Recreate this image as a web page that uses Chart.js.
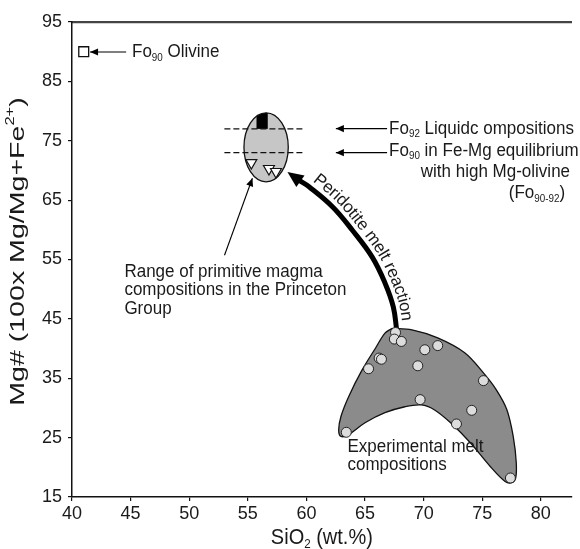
<!DOCTYPE html>
<html>
<head>
<meta charset="utf-8">
<script src="https://cdn.jsdelivr.net/npm/chart.js@4.4.1/dist/chart.umd.min.js"></script>
<style>
  html, body { margin: 0; padding: 0; background: #fff; overflow: hidden; }
  canvas { display: block; }
</style>
</head>
<body>
<canvas id="mgChart" width="580" height="549"></canvas>
<script>
const FONT = "'Liberation Sans', Arial, Helvetica, sans-serif";

// axis ticks
const xTicks = [40, 45, 50, 55, 60, 65, 70, 75, 80];
const yTicks = [15, 25, 35, 45, 55, 65, 75, 85, 95];

// experimental melt compositions (SiO2, Mg#)
const meltSiO2 = [67.6, 67.5, 68.1, 70.1, 71.2, 66.2, 66.4, 65.3, 69.5, 75.1, 69.7, 74.1, 72.8, 63.4, 77.4];
const meltMg = [42.7, 41.6, 41.2, 39.8, 40.5, 38.4, 38.2, 36.6, 37.1, 34.6, 31.4, 29.6, 27.3, 25.9, 18.2];

// primitive Princeton Group magmas
const princetonSiO2 = [55.3, 56.8, 57.4];
const princetonMg = [71.3, 70.3, 69.8];

// Fo90 olivine
const olivineSiO2 = [41.0];
const olivineMg = [90.0];

// outline of the experimental melt field
const fieldSiO2 = [67.3, 69.0, 71.2, 73.5, 75.1, 76.2, 77.1, 77.65, 77.9, 77.85, 77.5, 76.95, 75.7, 74.0, 72.3, 70.9, 69.8, 68.4, 66.7, 65.0, 63.6, 62.95, 62.75, 62.95, 63.6, 64.75, 65.9, 66.7, 67.3];
const fieldMg = [43.4, 43.15, 41.8, 39.3, 35.9, 33.05, 29.7, 25.1, 20.8, 18.2, 17.4, 17.6, 20.1, 24.1, 27.5, 29.7, 30.5, 30.2, 29.2, 27.5, 25.5, 25.2, 26.3, 28.6, 31.9, 36.4, 40.1, 42.6, 43.4];

// olivine equilibrium levels (Mg#) and their dashed extent (SiO2)
const fo92Level = 77;
const fo90Level = 73;
const levelSiO2 = [53.0, 59.9];

// range of primitive magma ellipse
const rangeEllipse = { x: 56.56, y: 73.9, rx: 1.89, ry: 5.81 };
const liquidBlock = { x0: 55.74, x1: 56.7, y0: 77, y1: 80.5 };

// peridotite melt reaction arrow: tip, then shaft from head to tail
const reactionTip = { x: 58.38, y: 69.75 };
const reactionSiO2 = [59.42, 60.25, 62.24, 63.92, 65.6, 66.71, 67.41, 67.7];
const reactionMg = [68.27, 67.22, 63.86, 59.93, 55.44, 51.01, 47.02, 43.1];

// thin label arrows (data units)
const pointers = [
  { from: [44.62, 89.95], to: [41.54, 89.95] },
  { from: [66.88, 77.05], to: [62.51, 77.05] },
  { from: [66.88, 73.0], to: [62.51, 73.0] },
  { from: [53.01, 55.72], to: [55.39, 68.68] }
];

const labels = [
  { text: 'Fo_{90} Olivine', x: 45.12, y: 89.95, align: 'left' },
  { text: 'Fo_{92} Liquidc ompositions', x: 67.05, y: 77.05, align: 'left' },
  { text: 'Fo_{90} in Fe-Mg equilibrium', x: 67.05, y: 73.32, align: 'left' },
  { text: 'with high Mg-olivine', x: 82.49, y: 69.75, align: 'right' },
  { text: '(Fo_{90-92})', x: 82.07, y: 66.16, align: 'right' },
  { text: 'Range of primitive magma', x: 44.47, y: 52.91, align: 'left' },
  { text: 'compositions in the Princeton', x: 44.47, y: 49.85, align: 'left' },
  { text: 'Group', x: 44.47, y: 46.67, align: 'left' },
  { text: 'Experimental melt', x: 63.5, y: 23.45, align: 'left' },
  { text: 'compositions', x: 63.5, y: 20.42, align: 'left' }
];

const reactionLabel = 'Peridotite melt reaction';

const pts = (xs, ys) => xs.map((x, i) => ({ x, y: ys[i] }));

function parseRich(str) {
  const parts = [];
  const re = /([_^])\{([^}]*)\}|([^_^]+)/g;
  let m;
  while ((m = re.exec(str))) {
    if (m[3]) parts.push({ t: m[3], mode: 'n' });
    else parts.push({ t: m[2], mode: m[1] === '_' ? 'sub' : 'sup' });
  }
  return parts;
}

function drawRich(ctx, str, x, y, o) {
  const size = o.size;
  const parts = parseRich(str);
  const fontOf = p => `${p.mode === 'n' ? size : size * 0.58}px ${FONT}`;
  let width = 0;
  parts.forEach(p => { ctx.font = fontOf(p); p.w = ctx.measureText(p.t).width; width += p.w; });
  let cx = o.align === 'right' ? -width : o.align === 'center' ? -width / 2 : 0;
  ctx.save();
  ctx.translate(x, y);
  if (o.rot) ctx.rotate(o.rot);
  ctx.scale(o.sx || 1, o.sy || 1);
  ctx.fillStyle = '#1a1a1a';
  ctx.textBaseline = 'middle';
  ctx.textAlign = 'left';
  parts.forEach(p => {
    ctx.font = fontOf(p);
    const dy = p.mode === 'sub' ? size * 0.3 : p.mode === 'sup' ? -size * 0.34 : 0;
    ctx.fillText(p.t, cx, dy);
    cx += p.w;
  });
  ctx.restore();
}

function arrowHead(ctx, tip, from, len, half) {
  const dx = from.x - tip.x, dy = from.y - tip.y;
  const L = Math.hypot(dx, dy);
  const ux = dx / L, uy = dy / L;
  const bx = tip.x + ux * len, by = tip.y + uy * len;
  ctx.beginPath();
  ctx.moveTo(tip.x, tip.y);
  ctx.lineTo(bx - uy * half, by + ux * half);
  ctx.lineTo(bx + uy * half, by - ux * half);
  ctx.closePath();
  ctx.fill();
}

function catmull(p, steps) {
  const out = [];
  for (let i = 0; i < p.length - 1; i++) {
    const p0 = p[Math.max(i - 1, 0)], p1 = p[i], p2 = p[i + 1], p3 = p[Math.min(i + 2, p.length - 1)];
    for (let k = 0; k < steps; k++) {
      const t = k / steps, t2 = t * t, t3 = t2 * t;
      const f = c => 0.5 * (2 * p1[c] + (p2[c] - p0[c]) * t + (2 * p0[c] - 5 * p1[c] + 4 * p2[c] - p3[c]) * t2 + (3 * p1[c] - p0[c] - 3 * p2[c] + p3[c]) * t3);
      out.push({ x: f('x'), y: f('y') });
    }
  }
  out.push(p[p.length - 1]);
  return out;
}

function textOnPath(ctx, str, path, offset, start, size) {
  const off = path.map((p, i) => {
    const a = path[Math.max(i - 1, 0)], b = path[Math.min(i + 1, path.length - 1)];
    const dx = b.x - a.x, dy = b.y - a.y, L = Math.hypot(dx, dy);
    return { x: p.x + dy / L * offset, y: p.y - dx / L * offset };
  });
  const cum = [0];
  for (let i = 1; i < off.length; i++) cum.push(cum[i - 1] + Math.hypot(off[i].x - off[i - 1].x, off[i].y - off[i - 1].y));
  const at = s => {
    let i = 1;
    while (i < cum.length - 1 && cum[i] < s) i++;
    const a = off[i - 1], b = off[i];
    const t = (s - cum[i - 1]) / (cum[i] - cum[i - 1] || 1);
    return { x: a.x + (b.x - a.x) * t, y: a.y + (b.y - a.y) * t, ang: Math.atan2(b.y - a.y, b.x - a.x) };
  };
  ctx.save();
  ctx.font = `${size}px ${FONT}`;
  ctx.fillStyle = '#1a1a1a';
  ctx.textAlign = 'center';
  ctx.textBaseline = 'middle';
  let s = start;
  for (const ch of str) {
    const w = ctx.measureText(ch).width;
    const p = at(s + w / 2);
    ctx.save();
    ctx.translate(p.x, p.y);
    ctx.rotate(p.ang);
    ctx.fillText(ch, 0, 0);
    ctx.restore();
    s += w;
  }
  ctx.restore();
}

const notes = {
  id: 'notes',
  beforeDatasetsDraw(chart) {
    const { ctx, scales: { x, y } } = chart;
    const cx = x.getPixelForValue(rangeEllipse.x), cy = y.getPixelForValue(rangeEllipse.y);
    const rx = x.getPixelForValue(rangeEllipse.x + rangeEllipse.rx) - cx;
    const ry = cy - y.getPixelForValue(rangeEllipse.y + rangeEllipse.ry);
    ctx.save();
    ctx.beginPath();
    ctx.ellipse(cx, cy, rx, ry, 0, 0, Math.PI * 2);
    ctx.fillStyle = '#c6c6c6';
    ctx.fill();
    ctx.clip();
    const bx0 = x.getPixelForValue(liquidBlock.x0), bx1 = x.getPixelForValue(liquidBlock.x1);
    const by0 = y.getPixelForValue(liquidBlock.y0), by1 = y.getPixelForValue(liquidBlock.y1);
    ctx.fillStyle = '#000';
    ctx.fillRect(bx0, by1, bx1 - bx0, by0 - by1);
    ctx.restore();
    ctx.save();
    ctx.beginPath();
    ctx.ellipse(cx, cy, rx, ry, 0, 0, Math.PI * 2);
    ctx.strokeStyle = '#111';
    ctx.lineWidth = 1.3;
    ctx.stroke();
    ctx.restore();
  },
  afterDatasetsDraw(chart) {
    const { ctx, scales: { x, y } } = chart;
    const px = (a, b) => ({ x: x.getPixelForValue(a), y: y.getPixelForValue(b) });
    ctx.save();
    ctx.fillStyle = '#000';
    ctx.strokeStyle = '#000';

    // thick reaction arrow head
    const tip = px(reactionTip.x, reactionTip.y);
    const base = px(reactionSiO2[0], reactionMg[0]);
    arrowHead(ctx, tip, base, 16, 7);

    // thin pointers
    ctx.lineWidth = 1.1;
    pointers.forEach(p => {
      const a = px(p.from[0], p.from[1]), b = px(p.to[0], p.to[1]);
      ctx.beginPath();
      ctx.moveTo(a.x, a.y);
      ctx.lineTo(b.x, b.y);
      ctx.stroke();
      arrowHead(ctx, b, a, 8, 3.6);
    });
    ctx.restore();

    labels.forEach(l => {
      const p = px(l.x, l.y);
      drawRich(ctx, l.text, p.x, p.y, { size: 17, align: l.align, sy: 1.1 });
    });

    // curved reaction label
    const path = catmull([tip].concat(pts(reactionSiO2, reactionMg).map(q => px(q.x, q.y))), 12);
    textOnPath(ctx, reactionLabel, path, 11, 26, 17);

    // axis titles
    drawRich(ctx, 'SiO_{2} (wt.%)', (x.left + x.right) / 2, x.bottom - 11, { size: 20, align: 'center', sy: 1.1 });
    drawRich(ctx, 'Mg# (100x Mg/Mg+Fe^{2+})', y.left + 18, (y.top + y.bottom) / 2 - 8, { size: 21, align: 'center', rot: -Math.PI / 2, sx: 1.36 });
  }
};

const tickFont = { family: FONT, size: 18 };

new Chart(document.getElementById('mgChart').getContext('2d'), {
  type: 'scatter',
  data: {
    datasets: [
      {
        label: 'Fo90 olivine',
        data: pts(olivineSiO2, olivineMg),
        pointStyle: 'rect',
        pointRadius: 7,
        backgroundColor: '#fff',
        borderColor: '#111',
        borderWidth: 1.3
      },
      {
        label: 'Experimental melts',
        data: pts(meltSiO2, meltMg),
        pointStyle: 'circle',
        pointRadius: 5,
        backgroundColor: '#dcdcdc',
        borderColor: '#222',
        borderWidth: 1
      },
      {
        label: 'Princeton Group',
        data: pts(princetonSiO2, princetonMg),
        pointStyle: 'triangle',
        rotation: 180,
        pointRadius: 6.3,
        backgroundColor: '#fff',
        borderColor: '#111',
        borderWidth: 1.2
      },
      {
        label: 'Peridotite melt reaction',
        data: pts(reactionSiO2, reactionMg),
        showLine: true,
        tension: 0.4,
        pointRadius: 0,
        borderColor: '#000',
        borderWidth: 5,
        borderCapStyle: 'butt'
      },
      {
        label: 'Fo92',
        data: levelSiO2.map(v => ({ x: v, y: fo92Level })),
        showLine: true,
        pointRadius: 0,
        borderColor: '#111',
        borderWidth: 1.4,
        borderDash: [6, 3]
      },
      {
        label: 'Fo90',
        data: levelSiO2.map(v => ({ x: v, y: fo90Level })),
        showLine: true,
        pointRadius: 0,
        borderColor: '#111',
        borderWidth: 1.4,
        borderDash: [6, 3]
      },
      {
        label: 'Melt field',
        data: pts(fieldSiO2, fieldMg),
        showLine: true,
        fill: 'shape',
        tension: 0.35,
        pointRadius: 0,
        backgroundColor: '#8b8b8b',
        borderColor: '#111',
        borderWidth: 1.3
      }
    ]
  },
  options: {
    responsive: false,
    devicePixelRatio: 1,
    animation: false,
    events: [],
    layout: { padding: { top: 22, right: 0, bottom: 0, left: 0 } },
    plugins: {
      legend: { display: false },
      tooltip: { enabled: false }
    },
    scales: {
      x: {
        type: 'linear',
        position: 'bottom',
        min: 40,
        max: 82.63,
        afterBuildTicks: s => { s.ticks = xTicks.map(v => ({ value: v })); },
        afterFit: s => { s.height = 52; },
        grid: { drawOnChartArea: false, tickLength: 4, color: '#111', lineWidth: 1.2 },
        border: { color: '#111', width: 1.5 },
        ticks: { font: tickFont, color: '#1a1a1a', padding: 2, maxRotation: 0, autoSkip: false }
      },
      top: {
        type: 'linear',
        position: 'top',
        min: 40,
        max: 82.63,
        afterFit: s => { s.height = 0; },
        grid: { display: false },
        border: { color: '#444', width: 2.2 },
        ticks: { display: false }
      },
      y: {
        type: 'linear',
        min: 15,
        max: 95,
        afterBuildTicks: s => { s.ticks = yTicks.map(v => ({ value: v })); },
        afterFit: s => { s.width = 72; },
        grid: { drawOnChartArea: false, tickLength: 4, color: '#111', lineWidth: 1.2 },
        border: { color: '#111', width: 1.5 },
        ticks: { font: tickFont, color: '#1a1a1a', padding: 6 }
      }
    }
  },
  plugins: [notes]
});
</script>
</body>
</html>
